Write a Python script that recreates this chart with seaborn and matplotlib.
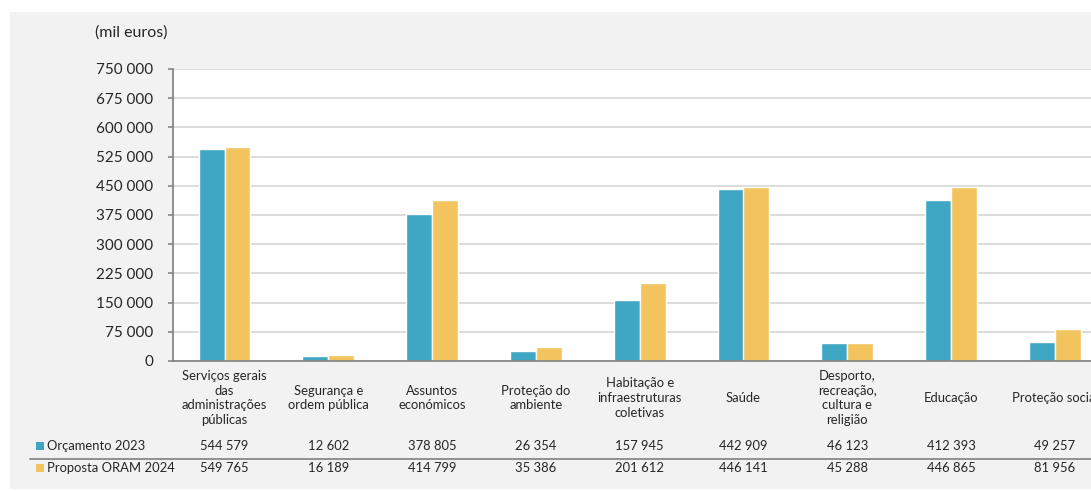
import matplotlib
matplotlib.use("Agg")
import matplotlib.pyplot as plt
import matplotlib.transforms as mtransforms
from matplotlib.patches import Rectangle
from matplotlib.lines import Line2D
import pandas as pd
import seaborn as sns

# Expenditure by function (thousand euros)
categories = [
    "Serviços gerais\ndas\nadministrações\npúblicas",
    "Segurança e\nordem pública",
    "Assuntos\neconómicos",
    "Proteção do\nambiente",
    "Habitação e\ninfraestruturas\ncoletivas",
    "Saúde",
    "Desporto,\nrecreação,\ncultura e\nreligião",
    "Educação",
    "Proteção social",
]
series_names = ["Orçamento 2023", "Proposta ORAM 2024"]
orcamento_2023 = [544579, 12602, 378805, 26354, 157945, 442909, 46123, 412393, 49257]
proposta_2024 = [549765, 16189, 414799, 35386, 201612, 446141, 45288, 446865, 81956]
y_ticks = [0, 75000, 150000, 225000, 300000, 375000, 450000, 525000, 600000, 675000, 750000]

colors = ["#3fa6c3", "#f3c45d"]
FONT = "Lato"
TXT = "#262626"
TABLE_FS = 9.4


def fmt(v):
    return f"{v:,}".replace(",", " ")


df = pd.DataFrame({
    "categoria": categories * 2,
    "serie": [series_names[0]] * len(categories) + [series_names[1]] * len(categories),
    "valor": orcamento_2023 + proposta_2024,
})

sns.set_style("white")
plt.rcParams["font.family"] = [FONT, "DejaVu Sans"]

W, H = 1091, 491
fig = plt.figure(figsize=(W / 100, H / 100), dpi=100)
fig.patch.set_facecolor("white")

# light grey panel behind the chart
fig.patches.append(Rectangle((10 / W, 1 - 489 / H), 1 - 10 / W, (489 - 12) / H,
                             transform=fig.transFigure, facecolor="#f2f2f2",
                             edgecolor="none", zorder=-5))

ax = fig.add_axes([172.6 / W, 1 - 361 / H, 1 - 172.6 / W, (361 - 69) / H])
ax.set_facecolor("white")
ax.set_zorder(2)

sns.barplot(data=df, x="categoria", y="valor", hue="serie", palette=colors,
            width=0.5, gap=0, ax=ax, legend=False, saturation=1)

step = (W - 172.6) / 103.8
ax.set_xlim(-0.5, -0.5 + step)
ax.set_ylim(0, 750000)
ax.set_yticks(y_ticks)
ax.set_yticklabels([fmt(v) for v in y_ticks], fontsize=11, color=TXT)
ax.yaxis.grid(True, color="#d9d9d9", linewidth=1.3)
ax.set_axisbelow(True)
ax.set_xticks([])
ax.set_xlabel("")
ax.set_ylabel("")
for s in ["top", "right"]:
    ax.spines[s].set_visible(False)
for s in ["left", "bottom"]:
    ax.spines[s].set_color("#868686")
    ax.spines[s].set_linewidth(1.3)
ax.tick_params(axis="y", direction="out", length=3.6, width=1.2, color="#868686",
               pad=10.5, left=True)

fig.text(95 / W, 1 - 33 / H, "(mil euros)", fontsize=11.5, color=TXT,
         ha="left", va="center")

# data table below the axis
trans = mtransforms.blended_transform_factory(ax.transData, fig.transFigure)
for i, lab in enumerate(categories):
    ax.text(i, 1 - 398 / H, lab, transform=trans, ha="center", va="center",
            fontsize=TABLE_FS, linespacing=1.28, color=TXT, clip_on=False)
    ax.text(i, 1 - 446 / H, fmt(orcamento_2023[i]), transform=trans, ha="center",
            va="center", fontsize=TABLE_FS, color=TXT, clip_on=False)
    ax.text(i, 1 - 468 / H, fmt(proposta_2024[i]), transform=trans, ha="center",
            va="center", fontsize=TABLE_FS, color=TXT, clip_on=False)

for yy, name, c in [(446, series_names[0], colors[0]), (468, series_names[1], colors[1])]:
    fig.patches.append(Rectangle((36 / W, 1 - (yy + 4) / H), 8 / W, 8 / H,
                                 transform=fig.transFigure, facecolor=c,
                                 edgecolor="none", zorder=3))
    fig.text(47 / W, 1 - yy / H, name, fontsize=TABLE_FS, color=TXT,
             ha="left", va="center")

fig.lines.append(Line2D([30 / W, 1], [1 - 459 / H, 1 - 459 / H], transform=fig.transFigure,
                        color="#7f7f7f", linewidth=1.2))

fig.savefig("out.png", dpi=100)
